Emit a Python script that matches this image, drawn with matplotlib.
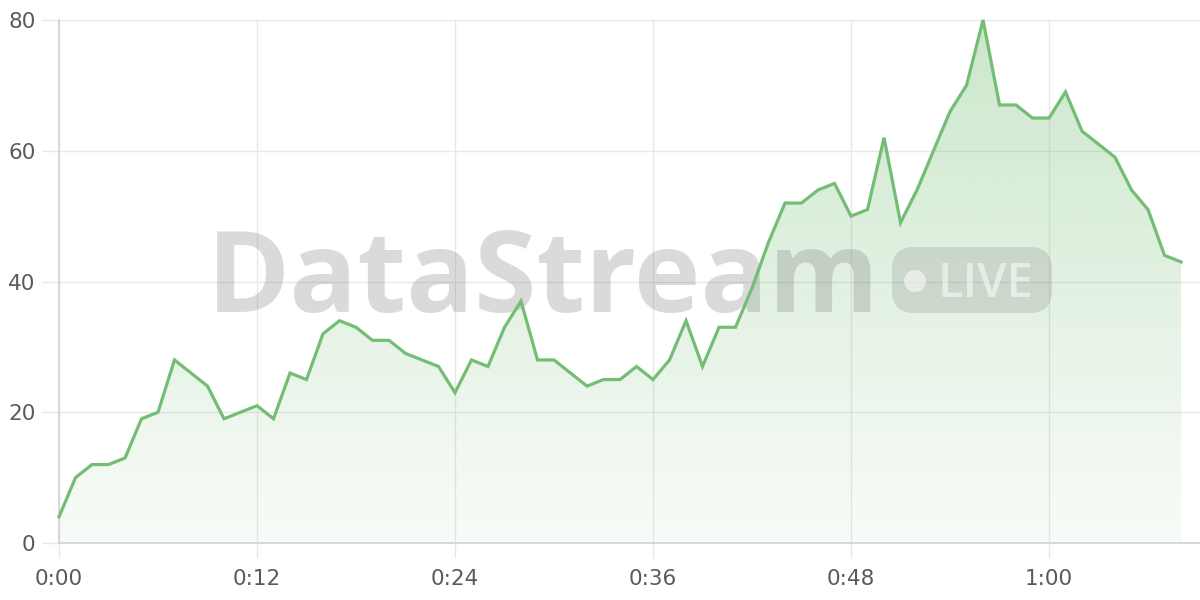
import matplotlib
matplotlib.use("Agg")
import matplotlib.pyplot as plt
import numpy as np
from matplotlib.patches import Polygon, FancyBboxPatch, Circle
from matplotlib.transforms import IdentityTransform

# ---- data ----
minutes = list(range(69))
values = [4, 10, 12, 12, 13, 19, 20, 28, 26, 24,
          19, 20, 21, 19, 26, 25, 32, 34, 33, 31,
          31, 29, 28, 27, 23, 28, 27, 33, 37, 28,
          28, 26, 24, 25, 25, 27, 25, 28, 34, 27,
          33, 33, 39, 46, 52, 52, 54, 55, 50, 51,
          62, 49, 54, 60, 66, 70, 80, 67, 67, 65,
          65, 69, 63, 61, 59, 54, 51, 44, 43]
xtick_pos = [0, 12, 24, 36, 48, 60]
xtick_labels = ["0:00", "0:12", "0:24", "0:36", "0:48", "1:00"]
ytick_pos = [0, 20, 40, 60, 80]
watermark = "DataStream"
badge_text = "LIVE"

LINE = "#74bd74"
GRID = "#e8e8e8"
AXIS = "#d2d2d2"
TXT = "#5a5a5a"

fig = plt.figure(figsize=(12, 6), dpi=100)
fig.patch.set_facecolor("white")
ax = fig.add_axes([59 / 1200, 57 / 600, 1 - 59 / 1200, 523 / 600])
ax.set_xlim(0, 69.15)
ax.set_ylim(0, 80)

for s in ["top", "right"]:
    ax.spines[s].set_visible(False)
ax.spines["left"].set_color(AXIS)
ax.spines["bottom"].set_color(AXIS)
ax.spines["left"].set_linewidth(1.2)
ax.spines["bottom"].set_linewidth(1.2)

ax.set_xticks(xtick_pos)
ax.set_xticklabels(xtick_labels)
ax.set_yticks(ytick_pos)
ax.grid(True, color=GRID, linewidth=1.0, zorder=0)
ax.set_axisbelow(True)
ax.tick_params(axis="y", length=12, color=GRID, width=1.0, pad=5,
               labelsize=15.5, labelcolor=TXT)
ax.tick_params(axis="x", length=11, color=GRID, width=1.0, pad=8,
               labelsize=15.5, labelcolor=TXT)
for lab in ax.get_xticklabels() + ax.get_yticklabels():
    lab.set_family(["DejaVu Sans"])

# gradient fill under the line
x = np.array(minutes, dtype=float)
y = np.array(values, dtype=float)
verts = np.vstack([np.column_stack([x, y]), [[x[-1], 0], [x[0], 0]]])
clip = Polygon(verts, closed=True, facecolor="none", edgecolor="none")
ax.add_patch(clip)
n = 256
alphas = np.linspace(0.05, 0.37, n)
grad = np.zeros((n, 1, 4))
rgb = matplotlib.colors.to_rgb(LINE)
grad[:, 0, 0] = rgb[0]
grad[:, 0, 1] = rgb[1]
grad[:, 0, 2] = rgb[2]
grad[:, 0, 3] = alphas
im = ax.imshow(grad, extent=[x[0], x[-1], 0, max(values)], origin="lower",
               aspect="auto", zorder=1, interpolation="bilinear")
im.set_clip_path(clip)

ax.plot(x, y, color=LINE, linewidth=2.3, zorder=4, clip_on=False,
        solid_joinstyle="miter")

# watermark
ax.text(207 / 1200, 1 - 312 / 600, watermark, transform=fig.transFigure,
        fontsize=81, fontweight="bold", family=["Open Sans", "DejaVu Sans"],
        color=(0.45, 0.45, 0.45), alpha=0.26, ha="left", va="baseline",
        zorder=3, clip_on=False)
badge = FancyBboxPatch((892, 287), 160, 66,
                       boxstyle="round,pad=0,rounding_size=22",
                       transform=IdentityTransform(), facecolor=(0.45, 0.45, 0.45),
                       alpha=0.2, edgecolor="none", zorder=3, clip_on=False)
ax.add_artist(badge)
dot = Circle((915, 319), 11, transform=IdentityTransform(), facecolor="white",
             alpha=0.55, edgecolor="none", zorder=3.1, clip_on=False)
ax.add_artist(dot)
ax.text(937 / 1200, 1 - 297 / 600, badge_text, transform=fig.transFigure,
        fontsize=34, fontweight="semibold", family=["Open Sans", "DejaVu Sans"],
        color="white", alpha=0.55, ha="left", va="baseline", zorder=3.1,
        clip_on=False)

fig.savefig("out.png", dpi=100)
